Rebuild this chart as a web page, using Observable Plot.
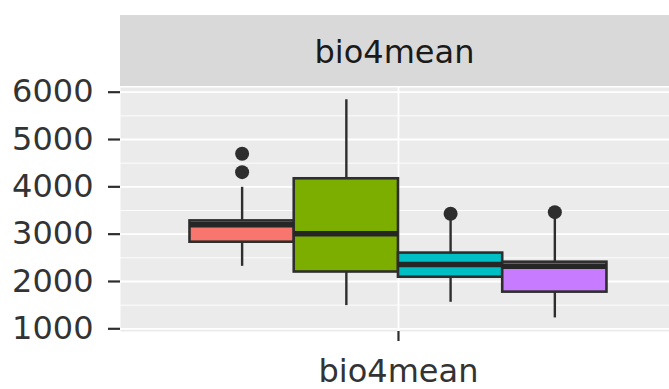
<!DOCTYPE html>
<html>
<head>
<meta charset="utf-8">
<script src="https://cdn.jsdelivr.net/npm/d3@7"></script>
<script src="https://cdn.jsdelivr.net/npm/@observablehq/plot@0.6"></script>
<style>
  html, body { margin: 0; padding: 0; background: #ffffff; overflow: hidden; }
  #wrap { position: relative; width: 669px; height: 389px; }
  #strip {
    position: absolute; left: 120px; top: 15px; width: 549px; height: 71px;
    background: #D9D9D9; color: #1A1A1A; z-index: 2;
    font: 32px "DejaVu Sans", sans-serif;
    display: flex; align-items: center; justify-content: center;
    padding-top: 2px; box-sizing: border-box;
  }
  #plot { position: absolute; left: 0; top: 0; z-index: 1; }
</style>
</head>
<body>
<div id="wrap">
  <div id="plot"></div>
  <div id="strip"></div>
</div>
<script>
// Facet / variable name
const variable = "bio4mean";

// Groups (one box each, dodged around the single x category) and their fills
const groups = ["g1", "g2", "g3", "g4"];
const fills = ["#F8766D", "#7CAE00", "#00BFC4", "#C77CFF"];

// Box statistics per group
const whiskerLow  = [2320, 1490, 1560, 1230];
const q1          = [2830, 2200, 2090, 1775];
const median      = [3200, 3010, 2360, 2320];
const q3          = [3280, 4170, 2600, 2408];
const whiskerHigh = [3990, 5840, 3320, 3350];

// Outlying points
const outlierGroup = ["g1", "g1", "g3", "g4"];
const outlierValue = [4700, 4310, 3430, 3465];

// Y axis ticks
const majorTicks = [1000, 2000, 3000, 4000, 5000, 6000];
const minorTicks = [1500, 2500, 3500, 4500, 5500];

// ggplot-style dodge: total width 0.9 around x = 1
const dodgeWidth = 0.9;
const boxWidth = dodgeWidth / groups.length;
const center = g => 1 - dodgeWidth / 2 + boxWidth * (groups.indexOf(g) + 0.5);

const boxes = groups.map((g, i) => ({
  group: g, fill: fills[i],
  x: center(g), x1: center(g) - boxWidth / 2, x2: center(g) + boxWidth / 2,
  lo: whiskerLow[i], q1: q1[i], median: median[i], q3: q3[i], hi: whiskerHigh[i]
}));
const outliers = outlierGroup.map((g, i) => ({ x: center(g), value: outlierValue[i] }));

document.getElementById("strip").textContent = variable;

const textColor = "#333333";
const lineColor = "#2e2e2e";

const chart = Plot.plot({
  width: 669,
  height: 389,
  marginLeft: 120,
  marginRight: 0,
  marginTop: 87,
  marginBottom: 58,
  style: { fontFamily: "'DejaVu Sans', sans-serif", fontSize: "32px", color: textColor, background: "transparent" },
  x: { type: "linear", domain: [0.4, 1.585], axis: null },
  y: { domain: [943, 6099], axis: null },
  marks: [
    Plot.frame({ fill: "#EBEBEB", stroke: null }),
    Plot.gridY(minorTicks, { stroke: "#ffffff", strokeOpacity: 1, strokeWidth: 0.9 }),
    Plot.gridY(majorTicks, { stroke: "#ffffff", strokeOpacity: 1, strokeWidth: 1.8 }),
    Plot.gridX([1], { stroke: "#ffffff", strokeOpacity: 1, strokeWidth: 1.8 }),
    // whiskers
    Plot.ruleX(boxes, { x: "x", y1: "lo", y2: "q1", stroke: lineColor, strokeWidth: 2.4 }),
    Plot.ruleX(boxes, { x: "x", y1: "q3", y2: "hi", stroke: lineColor, strokeWidth: 2.4 }),
    // boxes
    Plot.rect(boxes, { x1: "x1", x2: "x2", y1: "q1", y2: "q3", fill: "fill", stroke: lineColor, strokeWidth: 2.6 }),
    // medians
    Plot.ruleY(boxes, { y: "median", x1: "x1", x2: "x2", stroke: "#262626", strokeWidth: 5.5 }),
    // outliers
    Plot.dot(outliers, { x: "x", y: "value", r: 7, fill: lineColor, stroke: null }),
    // axes
    Plot.axisY(majorTicks, {
      anchor: "left", tickSize: 12, tickPadding: 15, stroke: lineColor, strokeWidth: 2.2,
      fill: textColor, tickFormat: d => String(d)
    }),
    Plot.axisX([1], {
      anchor: "bottom", tickSize: 10, tickPadding: 18, stroke: lineColor, strokeWidth: 2.2,
      fill: textColor, tickFormat: () => variable
    })
  ]
});

document.getElementById("plot").appendChild(chart);
</script>
</body>
</html>
